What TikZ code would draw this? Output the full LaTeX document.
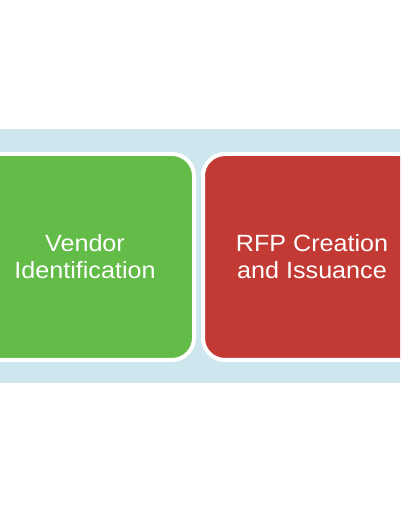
\documentclass[tikz,border=0pt]{standalone}
\usepackage{fontspec}
\setmainfont{Liberation Sans}[FakeStretch=1.07]
\usepackage{tikz}
\usetikzlibrary{positioning}

\definecolor{bandblue}{RGB}{206,230,238}
\definecolor{stepgreen}{RGB}{99,187,72}
\definecolor{stepred}{RGB}{194,58,51}

\begin{document}
\begin{tikzpicture}[
    x=1pt, y=1pt,
    band/.style={fill=bandblue, draw=none},
    stage/.style={draw=white, line width=4pt, rounded corners=22pt, minimum width=218pt, minimum height=206pt, inner sep=0pt, outer sep=0pt, align=center, text=white, font=\fontsize{23.5}{27}\selectfont},
]
\useasboundingbox (0,0) rectangle (400,516);
\clip (0,0) rectangle (400,516);
\fill[white] (0,0) rectangle (400,516);
\path[band] (0,133) rectangle (400,387);
\node[stage, fill=stepgreen] (vendor) at (85,259) {Vendor\\Identification};
\node[stage, fill=stepred] (rfp) at (312,259) {RFP Creation\\and Issuance};
\end{tikzpicture}
\end{document}
